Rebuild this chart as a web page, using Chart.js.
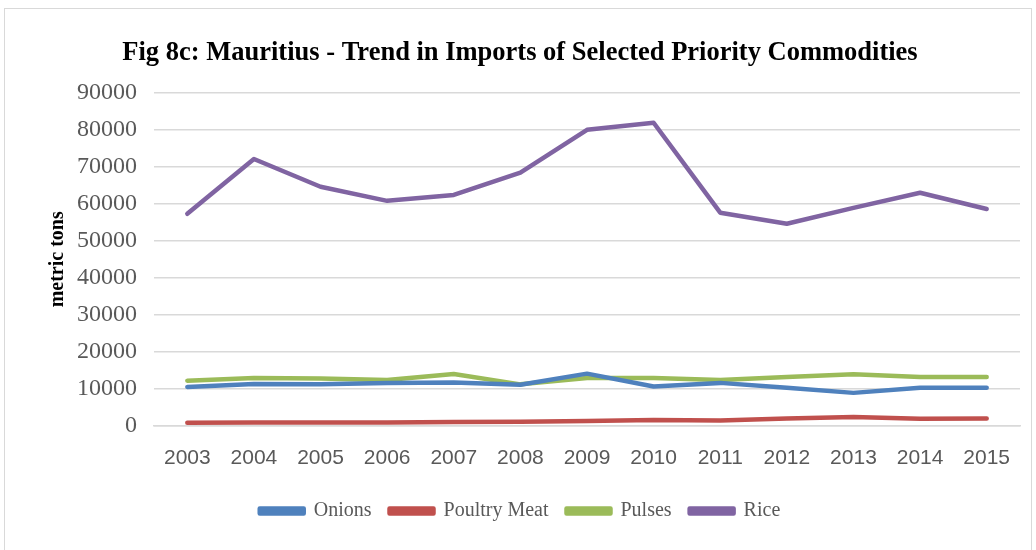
<!DOCTYPE html>
<html>
<head>
<meta charset="utf-8">
<script src="https://cdn.jsdelivr.net/npm/chart.js@4"></script>
<style>
  body { margin: 0; background: #fff; }
  #wrap { position: relative; width: 1036px; height: 550px; }
  #frame { position: absolute; left: 4px; top: 8px; width: 1026px; height: 545px; border: 1px solid #d9d9d9; }
</style>
</head>
<body>
<div id="wrap">
  <div id="frame"></div>
  <canvas id="importsChart" width="1036" height="550"></canvas>
</div>
<script>
  const years = ['2003', '2004', '2005', '2006', '2007', '2008', '2009', '2010', '2011', '2012', '2013', '2014', '2015'];
  const onions = [10500, 11300, 11200, 11600, 11700, 11100, 14100, 10600, 11600, 10300, 8900, 10300, 10300];
  const poultryMeat = [800, 900, 900, 900, 1000, 1100, 1300, 1600, 1400, 2000, 2400, 1900, 2000];
  const pulses = [12200, 12900, 12800, 12400, 14000, 11200, 12900, 12900, 12400, 13200, 13900, 13200, 13200];
  const rice = [57300, 72100, 64600, 60800, 62400, 68400, 80000, 81900, 57600, 54600, 58900, 63000, 58600];

  const serif = "'Liberation Serif', 'DejaVu Serif', serif";
  const sans = "'Liberation Sans', Arial, sans-serif";

  function series(label, data, color) {
    return {
      label: label,
      data: data,
      borderColor: color,
      backgroundColor: color,
      borderWidth: 4.5,
      borderCapStyle: 'round',
      borderJoinStyle: 'round',
      pointRadius: 0,
      tension: 0
    };
  }

  const ctx = document.getElementById('importsChart').getContext('2d');
  const chart = new Chart(ctx, {
    type: 'line',
    data: {
      labels: years,
      datasets: [
        series('Onions', onions, '#4f81bd'),
        series('Poultry Meat', poultryMeat, '#c0504d'),
        series('Pulses', pulses, '#9bbb59'),
        series('Rice', rice, '#8064a2')
      ]
    },
    options: {
      responsive: false,
      animation: false,
      layout: {
        padding: { left: 20, right: 16, top: 0, bottom: 19 }
      },
      plugins: {
        title: {
          display: true,
          text: 'Fig 8c: Mauritius - Trend in Imports of Selected Priority Commodities',
          color: '#000',
          font: { family: serif, size: 26.5, weight: 'bold' },
          padding: { top: 37, bottom: 24 }
        },
        legend: {
          position: 'bottom',
          labels: {
            color: '#595959',
            font: { family: serif, size: 20 },
            boxWidth: 44,
            boxHeight: 5,
            padding: 18
          }
        },
        tooltip: { enabled: false }
      },
      scales: {
        x: {
          offset: true,
          grid: { display: false },
          border: { color: '#d9d9d9', width: 1.5 },
          ticks: {
            color: '#595959',
            font: { family: sans, size: 21 },
            padding: 12,
            maxRotation: 0
          }
        },
        y: {
          min: 0,
          max: 90000,
          grid: { color: '#d9d9d9', lineWidth: 1.5, drawTicks: false },
          border: { display: false },
          ticks: {
            stepSize: 10000,
            color: '#595959',
            font: { family: serif, size: 24 },
            padding: 17,
            callback: function (value) { return String(value); }
          },
          title: {
            display: true,
            text: 'metric tons',
            color: '#000',
            font: { family: serif, size: 20, weight: 'bold' },
            padding: { top: 26, bottom: 0 }
          },
          afterFit: function (scale) { scale.width = 134; }
        }
      }
    }
  });
</script>
</body>
</html>
